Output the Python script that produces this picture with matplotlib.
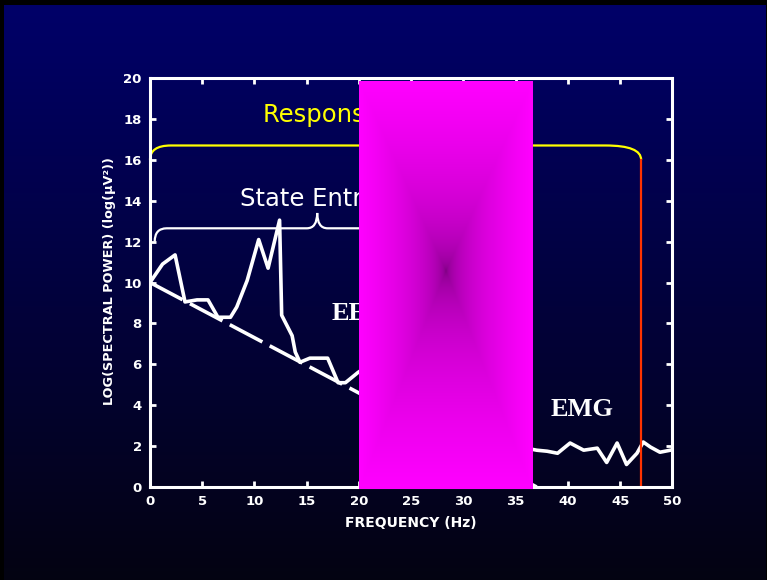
import numpy as np
import matplotlib
matplotlib.use("Agg")
import matplotlib.pyplot as plt
from matplotlib.path import Path
from matplotlib.patches import PathPatch

# EEG power spectrum (log power vs frequency)
eeg_hz = [0.0, 1.2, 2.4, 3.35, 4.5, 5.55, 6.5, 7.7, 8.3, 9.3, 10.4, 11.3, 12.4, 12.6,
          13.6, 13.9, 14.35, 15.3, 17.0, 18.0, 18.7, 19.9, 20.5]
eeg_pow = [10.0, 10.9, 11.35, 9.05, 9.15, 9.15, 8.3, 8.3, 8.8, 10.1, 12.1, 10.7, 13.05, 8.4,
           7.4, 6.6, 6.1, 6.3, 6.3, 5.1, 5.1, 5.6, 5.8]

# 1/f trend line
trend_hz = [0.0, 37.0]
trend_pow = [10.0, 0.0]

# EMG band
emg_hz = [36.0, 37.0, 38.0, 39.0, 40.2, 41.5, 42.8, 43.7, 44.7, 45.6, 46.6, 47.2, 47.9, 48.8, 49.8]
emg_pow = [1.9, 1.8, 1.75, 1.65, 2.15, 1.8, 1.9, 1.2, 2.15, 1.1, 1.65, 2.2, 1.95, 1.7, 1.8]

re_lo, re_hi, re_y = 0.0, 47.0, 16.0      # Response Entropy range
se_lo, se_hi, se_y = 0.45, 31.55, 12.0    # State Entropy range
box_lo, box_hi = 20.0, 36.65

fig = plt.figure(figsize=(7.67, 5.8), dpi=100, facecolor="black")

# slide background
bg = fig.add_axes([4 / 767, 0, 762 / 767, 575 / 580])
top = np.array([0.0, 0.0, 0.41])
bot = np.array([0.015, 0.012, 0.07])
t = np.linspace(0, 1, 256)[:, None]
grad = (top * (1 - t) + bot * t)[:, None, :]
bg.imshow(grad, aspect="auto", extent=(0, 1, 0, 1))
bg.set_axis_off()

ax = fig.add_axes([150 / 767, 93 / 580, 522.5 / 767, 409 / 580])
ax.patch.set_visible(False)
ax.set_xlim(0, 50)
ax.set_ylim(0, 20)

ax.plot(eeg_hz, eeg_pow, color="white", lw=2.6, solid_joinstyle="round")
ax.plot(trend_hz, trend_pow, color="white", lw=2.6, dashes=(10.2, 2.3))
ax.plot(emg_hz, emg_pow, color="white", lw=2.6, solid_joinstyle="round")

ax.text(17.4, 8.5, "EEG", color="white", fontsize=19, fontweight="bold",
        family="Liberation Serif", va="center")
ax.text(38.3, 3.8, "EMG", color="white", fontsize=19, fontweight="bold",
        family="Liberation Serif", va="center")

# Response Entropy bracket
verts = [(re_lo, re_y), (re_lo, 16.7), (2.0, 16.7), (43.6, 16.7), (re_hi, 16.7), (re_hi, re_y)]
codes = [Path.MOVETO, Path.CURVE3, Path.CURVE3, Path.LINETO, Path.CURVE3, Path.CURVE3]
ax.add_patch(PathPatch(Path(verts, codes), fill=False, ec="#FFFF00", lw=1.6, clip_on=False))
ax.plot([re_hi, re_hi], [re_y, 0], color="#FF3300", lw=1.6)
ax.text(10.8, 18.2, "Response Entropy", color="#FFFF00", fontsize=17.5, va="center")

# State Entropy brace
mid = (se_lo + se_hi) / 2
h, tip = 12.65, 13.4
verts = [(se_lo, se_y), (se_lo, h), (1.6, h), (mid - 1.0, h), (mid, h), (mid, tip),
         (mid, h), (mid + 1.0, h), (se_hi - 1.15, h), (se_hi, h), (se_hi, se_y)]
codes = [Path.MOVETO, Path.CURVE3, Path.CURVE3, Path.LINETO, Path.CURVE3, Path.CURVE3,
         Path.CURVE3, Path.CURVE3, Path.LINETO, Path.CURVE3, Path.CURVE3]
ax.add_patch(PathPatch(Path(verts, codes), fill=False, ec="white", lw=1.6))
ax.text(8.6, 14.1, "State Entropy", color="white", fontsize=17.5, va="center")

# magenta block, dark in the middle and bright toward the edges
ny, nx = 400, 180
yy, xx = np.mgrid[1:-1:ny * 1j, -1:1:nx * 1j]
yy = np.where(yy > 0.07, (yy - 0.07) / 0.93, (yy - 0.07) / 1.07)
r = np.clip(np.maximum(np.abs(xx), np.abs(yy)), 0, 1) ** 0.38
dark = np.array([0.44, 0.0, 0.46])
mag = np.array([1.0, 0.0, 1.0])
block = dark * (1 - r[..., None]) + mag * r[..., None]
ax.imshow(block, extent=(box_lo, box_hi, -0.1, 19.85), aspect="auto", zorder=4,
          clip_on=False, interpolation="bilinear", origin="upper")

for s in ax.spines.values():
    s.set_color("white")
    s.set_linewidth(2.2)
ax.set_xticks(np.arange(0, 51, 5))
ax.set_yticks(np.arange(0, 21, 2))
ax.tick_params(direction="in", colors="white", length=4, width=2,
               top=True, right=True, pad=6)
for lab in ax.get_xticklabels() + ax.get_yticklabels():
    lab.set_fontweight("bold")
    lab.set_fontsize(9.5)

fig.text(411 / 767, 1 - 523 / 580, "FREQUENCY (Hz)", color="white", fontsize=10,
         fontweight="bold", ha="center", va="center")
fig.text(110 / 767, 1 - 281 / 580, "LOG(SPECTRAL POWER) (log(μV²))", color="white",
         fontsize=9.3, fontweight="bold", rotation=90, ha="center", va="center")

fig.savefig("out.png", dpi=100, facecolor="black")
